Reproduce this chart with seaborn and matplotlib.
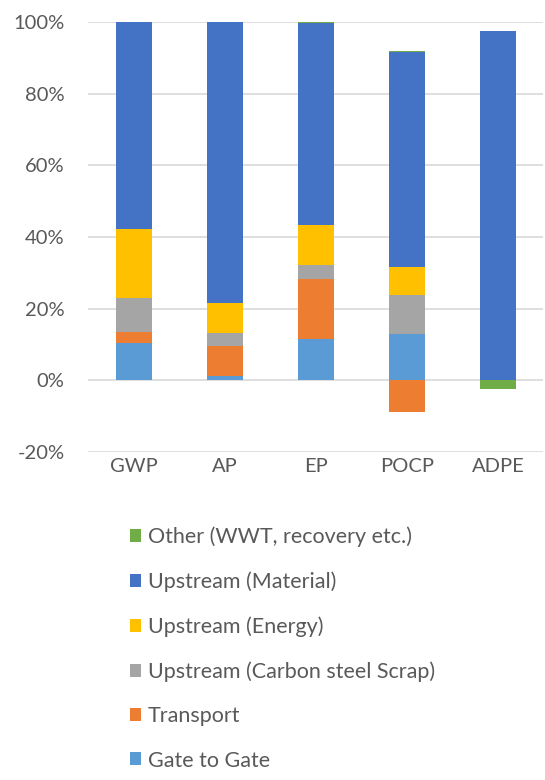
import numpy as np
import seaborn as sns
import matplotlib.pyplot as plt
from matplotlib.ticker import FuncFormatter

metrics = ['GWP', 'AP', 'EP', 'POCP', 'ADPE']

# shares in %, bottom to top
gate = [10.5, 1.2, 11.6, 12.8, 0.0]
transport = [3.0, 8.4, 16.8, -8.9, 0.0]
scrap = [9.5, 3.6, 3.7, 10.9, 0.0]
energy = [19.3, 8.5, 11.2, 7.9, 0.0]
material = [57.7, 78.3, 56.5, 59.9, 97.5]
other = [0.0, 0.0, 0.25, 0.3, -2.4]

layers = [
    ('Gate to Gate', gate, '#5B9BD5'),
    ('Transport', transport, '#ED7D31'),
    ('Upstream (Carbon steel Scrap)', scrap, '#A5A5A5'),
    ('Upstream (Energy)', energy, '#FFC000'),
    ('Upstream (Material)', material, '#4472C4'),
    ('Other (WWT, recovery etc.)', other, '#70AD47'),
]

sns.set_style('white')
plt.rcParams['font.family'] = ['Lato', 'DejaVu Sans']

fig = plt.figure(figsize=(5.45, 7.8), dpi=100)
ax = fig.add_axes([0.162, 0.4205, 0.835, 0.5513])

pos = np.zeros(len(metrics))
neg = np.zeros(len(metrics))
for name, vals, col in layers:
    v = np.array(vals)
    bottom = np.where(v >= 0, pos, neg)
    sns.barplot(x=metrics, y=v, bottom=bottom, color=col, saturation=1,
                width=0.39, errorbar=None, label=name, ax=ax, zorder=3,
                linewidth=0, edgecolor='none')
    pos = pos + np.where(v >= 0, v, 0)
    neg = neg + np.where(v < 0, v, 0)

if ax.get_legend() is not None:
    ax.get_legend().remove()

ax.set_ylim(-20, 100)
ax.set_yticks(range(-20, 101, 20))
ax.yaxis.set_major_formatter(FuncFormatter(lambda y, _: f'{int(y)}%'))
ax.grid(axis='y', color='#D9D9D9', linewidth=1.2, zorder=0)
ax.set_axisbelow(True)
for s in ax.spines.values():
    s.set_visible(False)
ax.tick_params(axis='both', length=0, colors='#595959', labelsize=14.5)
ax.tick_params(axis='x', pad=4)
ax.tick_params(axis='y', pad=17)
ax.set_xlabel('')
ax.set_ylabel('')

handles, labels = ax.get_legend_handles_labels()
fig.legend(handles[::-1], labels[::-1], loc='upper left',
           bbox_to_anchor=(0.222, 0.336), frameon=False, ncol=1,
           fontsize=15.5, labelcolor='#595959', handlelength=0.55,
           handleheight=0.55, handletextpad=0.3, labelspacing=1.13,
           borderaxespad=0)

fig.savefig('out.png', dpi=100, facecolor='white')
